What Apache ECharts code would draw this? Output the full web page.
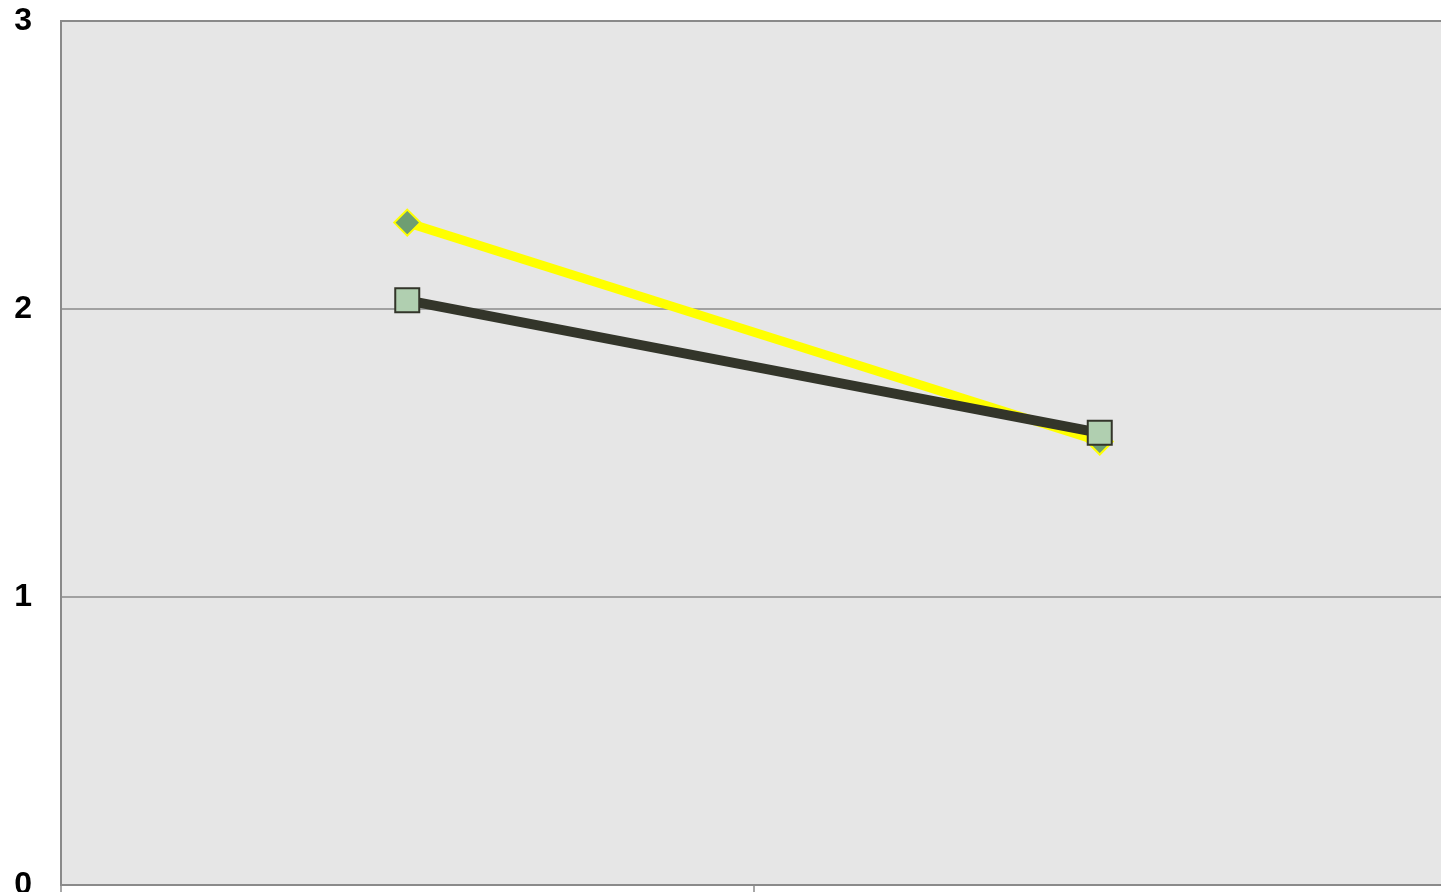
<!DOCTYPE html>
<html>
<head>
<meta charset="utf-8">
<style>
  html, body { margin: 0; padding: 0; background: #ffffff; overflow: hidden; }
  #chart { width: 1441px; height: 892px; }
</style>
<script src="https://cdn.jsdelivr.net/npm/echarts@6/dist/echarts.min.js"></script>
</head>
<body>
<div id="chart"></div>
<script>
// Two categories along x, value scale 0–3 on y
const categories = ['1', '2'];
const seriesYellow = [2.30, 1.54];
const seriesDark = [2.03, 1.57];
const yTicks = { min: 0, max: 3, interval: 1 };

const chart = echarts.init(document.getElementById('chart'));
chart.setOption({
  animation: false,
  backgroundColor: '#ffffff',
  grid: {
    left: 61, top: 21, width: 1385, height: 864,
    outerBoundsMode: 'none',
    containLabel: false,
    show: true, backgroundColor: '#e6e6e6',
    borderColor: '#8a8a8a', borderWidth: 2
  },
  xAxis: {
    type: 'category',
    data: categories,
    boundaryGap: true,
    axisLine: { show: true, lineStyle: { color: '#8a8a8a', width: 2 } },
    axisTick: { show: true, length: 12, lineStyle: { color: '#8a8a8a', width: 1.5 } },
    axisLabel: { show: false },
    splitLine: { show: false }
  },
  yAxis: {
    type: 'value',
    min: yTicks.min, max: yTicks.max, interval: yTicks.interval,
    axisLine: { show: false },
    axisTick: { show: false },
    axisLabel: {
      margin: 29,
      color: '#000000',
      fontFamily: 'Liberation Sans, Arial, sans-serif',
      fontWeight: 'bold',
      fontSize: 32
    },
    splitLine: { show: true, lineStyle: { color: '#8a8a8a', width: 1.5 } }
  },
  series: [
    {
      name: 'Series 1',
      type: 'line',
      data: seriesYellow,
      lineStyle: { color: '#ffff00', width: 9 },
      symbol: 'diamond',
      symbolSize: 26,
      itemStyle: { color: '#6e9e72', borderColor: '#ffff00', borderWidth: 2 },
      z: 2
    },
    {
      name: 'Series 2',
      type: 'line',
      data: seriesDark,
      lineStyle: { color: '#33352a', width: 10 },
      symbol: 'rect',
      symbolSize: 24,
      itemStyle: { color: '#b0cfb0', borderColor: '#33352a', borderWidth: 2 },
      z: 3
    }
  ]
});
</script>
</body>
</html>
